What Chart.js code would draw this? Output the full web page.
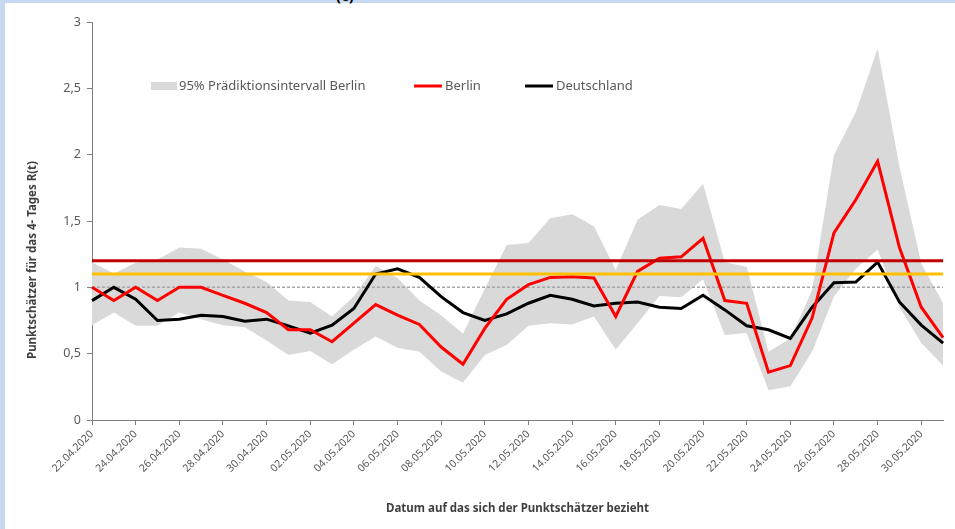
<!DOCTYPE html>
<html>
<head>
<meta charset="utf-8">
<script src="https://cdn.jsdelivr.net/npm/chart.js@4"></script>
<style>
  body { margin: 0; background: #fff; overflow: hidden; }
  #stripLeft { position: absolute; left: 0; top: 0; width: 5px; height: 529px; background: #c6d9f1; }
  #stripTop { position: absolute; left: 0; top: 0; width: 955px; height: 3px; background: #c6d9f1; }
  #cut { position: absolute; left: 336px; top: -15px; font: bold 15px 'Noto Sans', sans-serif; color: #000; }
  canvas { position: absolute; left: 0; top: 0; }
</style>
</head>
<body>
<div id="stripLeft"></div>
<div id="stripTop"></div>
<div id="cut">(c)</div>
<canvas id="rChart" width="955" height="529"></canvas>
<script>
const dates = [
    '22.04.2020', '23.04.2020', '24.04.2020', '25.04.2020', '26.04.2020', '27.04.2020', '28.04.2020', '29.04.2020', '30.04.2020',
    '01.05.2020', '02.05.2020', '03.05.2020', '04.05.2020', '05.05.2020', '06.05.2020', '07.05.2020', '08.05.2020', '09.05.2020',
    '10.05.2020', '11.05.2020', '12.05.2020', '13.05.2020', '14.05.2020', '15.05.2020', '16.05.2020', '17.05.2020', '18.05.2020',
    '19.05.2020', '20.05.2020', '21.05.2020', '22.05.2020', '23.05.2020', '24.05.2020', '25.05.2020', '26.05.2020', '27.05.2020',
    '28.05.2020', '29.05.2020', '30.05.2020', '31.05.2020'
];

const berlin = [1.00, 0.90, 1.00, 0.90, 1.00, 1.00, 0.94, 0.88, 0.81, 0.68,
    0.68, 0.59, 0.73, 0.87, 0.79, 0.72, 0.55, 0.42, 0.69, 0.91,
    1.02, 1.075, 1.08, 1.07, 0.78, 1.12, 1.22, 1.23, 1.37, 0.90,
    0.88, 0.36, 0.41, 0.77, 1.41, 1.66, 1.95, 1.30, 0.85, 0.62];

const deutschland = [0.90, 1.00, 0.91, 0.75, 0.76, 0.79, 0.78, 0.745, 0.76, 0.71,
    0.655, 0.715, 0.84, 1.10, 1.14, 1.075, 0.93, 0.81, 0.75, 0.80,
    0.88, 0.94, 0.91, 0.86, 0.88, 0.89, 0.85, 0.84, 0.94, 0.83,
    0.71, 0.68, 0.615, 0.85, 1.035, 1.04, 1.19, 0.89, 0.715, 0.58];

const bandUpper = [1.19, 1.105, 1.185, 1.21, 1.30, 1.29, 1.21, 1.12, 1.04, 0.90,
    0.89, 0.78, 0.93, 1.16, 1.07, 0.90, 0.79, 0.65, 0.99, 1.32,
    1.335, 1.52, 1.55, 1.46, 1.13, 1.51, 1.62, 1.59, 1.78, 1.19,
    1.155, 0.515, 0.615, 0.98, 2.00, 2.32, 2.80, 1.91, 1.18, 0.88];

const bandLower = [0.715, 0.81, 0.71, 0.71, 0.81, 0.76, 0.715, 0.70, 0.60, 0.49,
    0.52, 0.42, 0.53, 0.63, 0.545, 0.515, 0.365, 0.28, 0.49, 0.565,
    0.71, 0.73, 0.72, 0.78, 0.53, 0.73, 0.935, 0.925, 1.06, 0.64,
    0.655, 0.225, 0.255, 0.515, 0.93, 1.14, 1.285, 0.85, 0.58, 0.41];

const yTicks = [0, 0.5, 1, 1.5, 2, 2.5, 3];
const refOne = 1.0;
const refYellow = 1.1;
const refRed = 1.2;

const FONT = "'Noto Sans', sans-serif";
const TEXT = '#595959';
const AXIS = '#7f7f7f';

function constLine(v) {
    return dates.map(() => v);
}

// legend drawn inside the plot, like the original
const legendPlugin = {
    id: 'innerLegend',
    afterDraw(chart) {
        const ctx = chart.ctx;
        const items = [
            { ds: chart.data.datasets[0], x: 151, box: true },
            { ds: chart.data.datasets[2], x: 414 },
            { ds: chart.data.datasets[3], x: 525 }
        ];
        const y = 86;
        ctx.save();
        ctx.font = '13px ' + FONT;
        ctx.textBaseline = 'middle';
        items.forEach(it => {
            if (it.box) {
                ctx.fillStyle = it.ds.backgroundColor;
                ctx.fillRect(it.x, y - 4, 26, 8);
            } else {
                ctx.strokeStyle = it.ds.borderColor;
                ctx.lineWidth = 3;
                ctx.beginPath();
                ctx.moveTo(it.x, y);
                ctx.lineTo(it.x + 28, y);
                ctx.stroke();
            }
            ctx.fillStyle = TEXT;
            ctx.fillText(it.ds.label, it.x + (it.box ? 28 : 31), y);
        });
        // y axis title
        ctx.translate(33, 260);
        ctx.rotate(-Math.PI / 2);
        ctx.textAlign = 'center';
        ctx.font = 'bold 11.5px ' + FONT;
        ctx.fillStyle = '#404040';
        ctx.fillText('Punktschätzer für das 4- Tages R(t)', 0, 0);
        ctx.restore();
    }
};

new Chart(
    document.getElementById('rChart'),
    {
        type: 'line',
        data: {
            labels: dates,
            datasets: [
                {
                    label: '95% Prädiktionsintervall Berlin',
                    data: bandUpper,
                    borderWidth: 0,
                    backgroundColor: '#d9d9d9',
                    fill: '+1',
                    order: 10
                },
                {
                    label: 'lower',
                    data: bandLower,
                    borderWidth: 0,
                    fill: false,
                    order: 10
                },
                {
                    label: 'Berlin',
                    data: berlin,
                    borderColor: '#ff0000',
                    borderWidth: 3,
                    fill: false,
                    order: 3
                },
                {
                    label: 'Deutschland',
                    data: deutschland,
                    borderColor: '#000000',
                    borderWidth: 3,
                    fill: false,
                    order: 3
                },
                {
                    label: 'ref 1',
                    data: constLine(refOne),
                    borderColor: '#a6a6a6',
                    borderWidth: 1.5,
                    borderDash: [3, 2],
                    fill: false,
                    order: 5
                },
                {
                    label: 'ref 1.1',
                    data: constLine(refYellow),
                    borderColor: '#ffc000',
                    borderWidth: 3,
                    fill: false,
                    order: 1
                },
                {
                    label: 'ref 1.2',
                    data: constLine(refRed),
                    borderColor: '#c00000',
                    borderWidth: 3,
                    fill: false,
                    order: 1
                }
            ]
        },
        options: {
            responsive: false,
            animation: false,
            elements: {
                point: { radius: 0, hoverRadius: 0 },
                line: { tension: 0 }
            },
            layout: {
                padding: { left: 0, top: 22, right: 10, bottom: 0 }
            },
            plugins: {
                legend: { display: false },
                tooltip: { enabled: false }
            },
            scales: {
                x: {
                    offset: false,
                    grid: {
                        drawOnChartArea: false,
                        tickLength: 5,
                        tickColor: (c) => (c.index % 2 ? 'rgba(0,0,0,0)' : AXIS)
                    },
                    border: { color: AXIS, width: 1 },
                    ticks: {
                        autoSkip: false,
                        minRotation: 45,
                        maxRotation: 45,
                        color: TEXT,
                        padding: 3,
                        font: { family: FONT, size: 10.5 },
                        callback: (v, i) => (i % 2 === 0 ? dates[i] : '')
                    },
                    title: {
                        display: true,
                        text: 'Datum auf das sich der Punktschätzer bezieht',
                        color: '#404040',
                        font: { family: FONT, size: 11.5, weight: 'bold' },
                        padding: { top: 0, bottom: 13 }
                    },
                    afterFit: (s) => { s.height = 109; }
                },
                y: {
                    min: 0,
                    max: 3,
                    afterBuildTicks: (s) => { s.ticks = yTicks.map(v => ({ value: v })); },
                    grid: {
                        drawOnChartArea: false,
                        tickLength: 5,
                        tickColor: AXIS
                    },
                    border: { color: AXIS, width: 1 },
                    ticks: {
                        color: TEXT,
                        padding: 6,
                        font: { family: FONT, size: 12.5 },
                        callback: (v) => String(v).replace('.', ',')
                    },
                    afterFit: (s) => { s.width = 92; }
                }
            }
        },
        plugins: [legendPlugin]
    }
);
</script>
</body>
</html>
